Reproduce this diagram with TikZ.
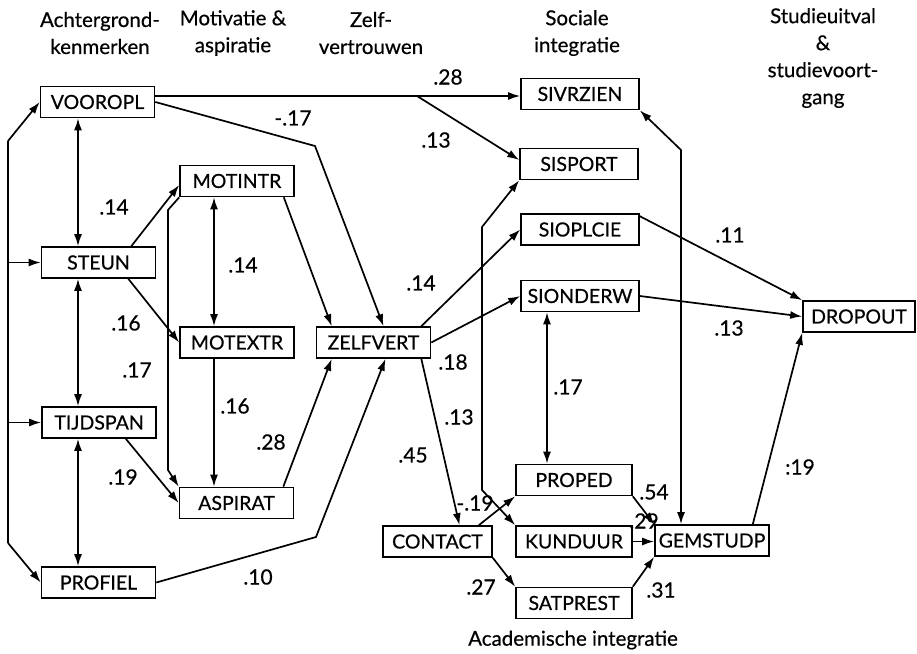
\documentclass[tikz,border=0pt]{standalone}
\usepackage{fontspec}
\setmainfont{Lato}[FakeBold=0.5]
\usetikzlibrary{arrows.meta,calc}
\begin{document}
\begin{tikzpicture}[x=1pt,y=-1pt,
  box/.style={draw,line width=1.6pt,minimum width=114pt,minimum height=31pt,inner sep=0pt,
    font=\fontsize{19.5}{21}\selectfont},
  lbl/.style={font=\fontsize{21}{23}\selectfont,inner sep=0pt},
  head/.style={align=center,font=\fontsize{20.5}{27}\selectfont,inner sep=0pt},
  tip/.tip={Latex[length=12pt,width=8pt]},
  link/.style={line width=1.7pt,-tip},
  both/.style={line width=1.7pt,tip-tip},
  plain/.style={line width=1.7pt},
]
\useasboundingbox (0,0) rectangle (917,653);

% column headings
\node[head] (h1) at (100,33) {Achtergrond-\\kenmerken};
\node[head] (h2) at (233,33) {Motivatie \&\\aspiratie};
\node[head] (h3) at (371,33) {Zelf-\\vertrouwen};
\node[head] (h4) at (577,33) {Sociale\\integratie};
\node[head] (h5) at (823,58) {Studieuitval\\\&\\studievoort-\\gang};
\node[head] (h6) at (573,640) {Academische integratie};

% variables
\node[box] (VOOROPL) at (97.5,102) {VOOROPL};
\node[box] (STEUN) at (98.5,262.5) {STEUN};
\node[box] (TIJDSPAN) at (99,422.5) {TIJDSPAN};
\node[box] (PROFIEL) at (98.5,582.5) {PROFIEL};
\node[box] (MOTINTR) at (237,181) {MOTINTR};
\node[box] (MOTEXTR) at (237,342.5) {MOTEXTR};
\node[box] (ASPIRAT) at (236.5,503) {ASPIRAT};
\node[box] (ZELFVERT) at (373.5,342.5) {ZELFVERT};
\node[box,minimum width=118pt] (SIVRZIEN) at (580,94) {SIVRZIEN};
\node[box,minimum width=118pt] (SISPORT) at (579,164) {SISPORT};
\node[box,minimum width=118pt] (SIOPLCIE) at (580,229.5) {SIOPLCIE};
\node[box,minimum width=118pt] (SIONDERW) at (580,296) {SIONDERW};
\node[box,minimum width=112pt] (DROPOUT) at (859,316.5) {DROPOUT};
\node[box,minimum width=116pt] (PROPED) at (574,480) {PROPED};
\node[box,minimum width=116pt] (KUNDUUR) at (574,541.5) {KUNDUUR};
\node[box,minimum width=116pt] (SATPREST) at (574,603) {SATPREST};
\node[box,minimum width=109pt] (CONTACT) at (437.5,541.5) {CONTACT};
\node[box] (GEMSTUDP) at (712,540.5) {GEMSTUDP};

% bend points
\coordinate (L1) at (8,141);
\coordinate (L2) at (8,543);
\coordinate (X1) at (78,0);
\coordinate (X2) at (214,0);
\coordinate (X3) at (547,0);
\coordinate (V1) at (417,96);
\coordinate (V2) at (315,146);
\coordinate (M1) at (168,210);
\coordinate (M2) at (168,470);
\coordinate (P1) at (316,537);
\coordinate (K1) at (482,227);
\coordinate (K2) at (482,490);
\coordinate (X4) at (681,150);

% background variables
\draw[plain] (L1) -- (L2);
\draw[link] (L1) -- (VOOROPL.west);
\draw[link] (L2) -- (PROFIEL.west);
\draw[link] (L1 |- STEUN.west) -- (STEUN.west);
\draw[link] (L1 |- TIJDSPAN.west) -- (TIJDSPAN.west);
\draw[both] (X1 |- VOOROPL.south) -- (X1 |- STEUN.north);
\draw[both] (X1 |- STEUN.south) -- (X1 |- TIJDSPAN.north);
\draw[both] (X1 |- TIJDSPAN.south) -- (X1 |- PROFIEL.north);

% motivation and aspiration
\draw[link] ([xshift=-25pt]STEUN.north east) -- ([yshift=-4pt]MOTINTR.west);
\draw[link] ([xshift=-28pt]STEUN.south east) -- (MOTEXTR.west);
\draw[both] (X2 |- MOTINTR.south) -- (X2 |- MOTEXTR.north);
\draw[link] (X2 |- MOTEXTR.south) -- (X2 |- ASPIRAT.north);
\draw[link] (MOTINTR.south west) -- (M1) -- (M2) -- (ASPIRAT.north west);
\draw[link] ([xshift=-31pt]TIJDSPAN.south east) -- (ASPIRAT.west);

% self-confidence
\draw[link] ([xshift=-11pt]MOTINTR.south east) -- ([xshift=16pt]ZELFVERT.north west);
\draw[link] ([xshift=-11pt]ASPIRAT.north east) -- ([xshift=16pt]ZELFVERT.south west);
\draw[link] (VOOROPL.east) -- (V2) -- ([xshift=10pt]ZELFVERT.north);
\draw[link] (PROFIEL.east) -- (P1) -- ([xshift=12pt]ZELFVERT.south);

% social integration
\draw[link] (VOOROPL.east |- V1) -- (SIVRZIEN.west |- V1);
\draw[link] (V1) -- ([yshift=4pt]SISPORT.west);
\draw[link] ([xshift=-10pt]ZELFVERT.north east) -- (SIOPLCIE.west);
\draw[link] (ZELFVERT.east) -- (SIONDERW.west);
\draw[both] (SISPORT.south west) -- (K1) -- (K2) -- (KUNDUUR.north west);
\draw[both] (X3 |- SIONDERW.south) -- (X3 |- PROPED.north);

% academic integration
\draw[link] ([xshift=-10pt]ZELFVERT.south east) -- ([xshift=22pt]CONTACT.north);
\draw[link] ([xshift=-14pt]CONTACT.north east) -- (PROPED.south west);
\draw[link] (CONTACT.south east) -- (SATPREST.north west);
\draw[link] (PROPED.south east) -- (GEMSTUDP.north west);
\draw[link] (KUNDUUR.east) -- (KUNDUUR.east -| GEMSTUDP.west);
\draw[link] (SATPREST.north east) -- (GEMSTUDP.south west);
\draw[both] (X4 |- GEMSTUDP.north) -- (X4) -- (SIVRZIEN.south east);

% dropout
\draw[link] ([yshift=-3pt]SIOPLCIE.north east) -- (DROPOUT.north west);
\draw[link] (SIONDERW.east) -- (DROPOUT.west);
\draw[link] ([xshift=-17pt]GEMSTUDP.north east) -- (DROPOUT.south west);

% path coefficients
\node[lbl] (c1) at (448,77) {.28};
\node[lbl] (c2) at (436,140) {.13};
\node[lbl] (c3) at (293,118) {-.17};
\node[lbl] (c4) at (114,207) {.14};
\node[lbl] (c5) at (243,265) {.14};
\node[lbl] (c6) at (126,323) {.16};
\node[lbl] (c7) at (421,283) {.14};
\node[lbl] (c8) at (137,370) {.17};
\node[lbl] (c9) at (235,406) {.16};
\node[lbl] (c10) at (271,442) {.28};
\node[lbl] (c11) at (123,477) {.19};
\node[lbl] (c12) at (258,577) {.10};
\node[lbl] (c13) at (413,455) {.45};
\node[lbl] (c14) at (453,362) {.18};
\node[lbl] (c15) at (459,417) {.13};
\node[lbl] (c16) at (475,503) {-.19};
\node[lbl] (c17) at (568,387) {.17};
\node[lbl] (c18) at (654,492) {.54};
\node[lbl] (c19) at (644,521) {.29};
\node[lbl] (c20) at (661,590) {.31};
\node[lbl] (c21) at (481,587) {.27};
\node[lbl] (c22) at (730,235) {.11};
\node[lbl] (c23) at (729,328) {.13};
\node[lbl] (c24) at (800,467) {:19};
\end{tikzpicture}
\end{document}
